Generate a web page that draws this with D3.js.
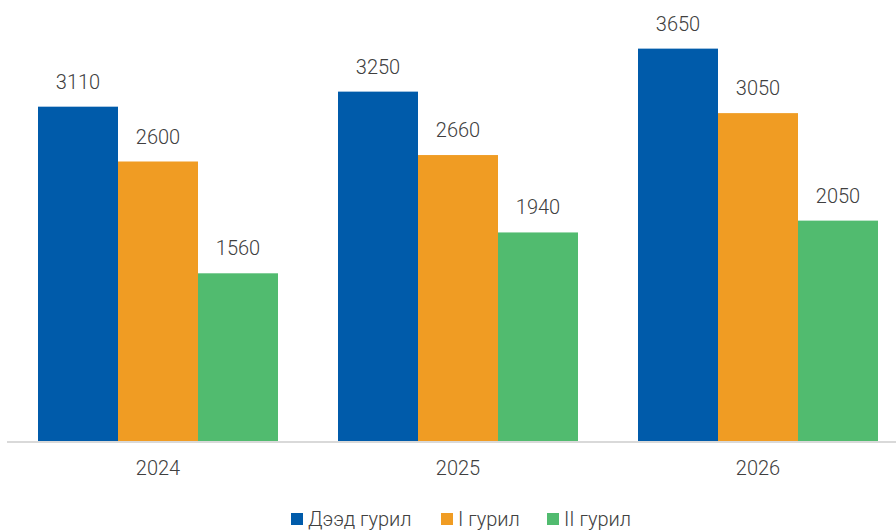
<!DOCTYPE html>
<html><head><meta charset="utf-8">
<script src="https://cdn.jsdelivr.net/npm/d3@7"></script>
<style>body{margin:0;background:#fff}svg{display:block}text{font-family:Roboto,"Noto Sans",sans-serif;font-weight:300;fill:#404040}</style>
</head><body><svg id="c" width="896" height="532"></svg>
<script>
const years = ["2024","2025","2026"];
const seriesNames = ["Дээд гурил","I гурил","II гурил"];
const seriesColors = ["#005BAA","#F09C23","#51BB6F"];
const dzeed = [3110,3250,3650];
const first = [2600,2660,3050];
const second = [1560,1940,2050];
const seriesValues = [dzeed, first, second];

const svg = d3.select("#c");
const x0 = d3.scaleBand().domain(years).range([8,908]).paddingInner(0).paddingOuter(0);
const x1 = d3.scaleBand().domain(seriesNames).range([30,270]);
const y = d3.scaleLinear().domain([0,4000]).range([441,11]);

const g = svg.append("g");
years.forEach((yr,i)=>{
  const grp = g.append("g").attr("transform",`translate(${x0(yr)},0)`);
  seriesNames.forEach((s,j)=>{
    const v = seriesValues[j][i];
    grp.append("rect").attr("x",x1(s)).attr("y",y(v)).attr("width",x1.bandwidth()).attr("height",y(0)-y(v)).attr("fill",seriesColors[j]);
    grp.append("text").attr("x",x1(s)+x1.bandwidth()/2).attr("y",y(v)-18).attr("text-anchor","middle").attr("font-size","20px").text(v);
  });
});

// axis
const ax = svg.append("g").attr("transform","translate(0,442)").call(d3.axisBottom(x0).tickSize(0).tickPadding(19));
ax.select(".domain").remove();
ax.selectAll("text").attr("font-size","20px").style("font-family","Roboto, sans-serif").style("font-weight","300").attr("fill","#404040");
svg.append("line").attr("x1",7).attr("x2",896).attr("y1",442).attr("y2",442).attr("stroke","#d9d9d9").attr("stroke-width",2);

// legend
const legX = [291,441,547];
const leg = svg.append("g");
seriesNames.forEach((s,j)=>{
  leg.append("rect").attr("x",legX[j]).attr("y",513).attr("width",12).attr("height",12).attr("fill",seriesColors[j]);
  leg.append("text").attr("x",legX[j]+17).attr("y",526).attr("font-size","20px").text(s);
});
</script></body></html>
